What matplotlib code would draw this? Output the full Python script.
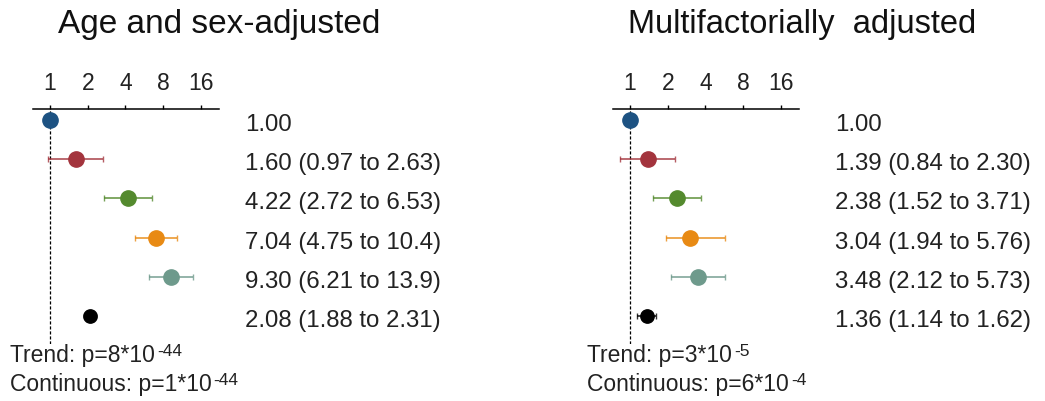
import matplotlib
matplotlib.use("Agg")
from matplotlib import pyplot as plt
from matplotlib.transforms import blended_transform_factory

plt.rcParams["font.family"] = ["Liberation Sans", "DejaVu Sans"]

# data
titles = ["Age and sex-adjusted", "Multifactorially  adjusted"]
colours = ["#1d5282", "#a3343d", "#548a2e", "#e88a14", "#6e9a8c", "#000000"]
hr_age = [1.00, 1.60, 4.22, 7.04, 9.30, 2.08]
lo_age = [1.00, 0.97, 2.72, 4.75, 6.21, 1.88]
hi_age = [1.00, 2.63, 6.53, 10.4, 13.9, 2.31]
hr_multi = [1.00, 1.39, 2.38, 3.04, 3.48, 1.36]
lo_multi = [1.00, 0.84, 1.52, 1.94, 2.12, 1.14]
hi_multi = [1.00, 2.30, 3.71, 5.76, 5.73, 1.62]
labels_age = ["1.00", "1.60 (0.97 to 2.63)", "4.22 (2.72 to 6.53)",
              "7.04 (4.75 to 10.4)", "9.30 (6.21 to 13.9)", "2.08 (1.88 to 2.31)"]
labels_multi = ["1.00", "1.39 (0.84 to 2.30)", "2.38 (1.52 to 3.71)",
                "3.04 (1.94 to 5.76)", "3.48 (2.12 to 5.73)", "1.36 (1.14 to 1.62)"]
ticks = [1, 2, 4, 8, 16]
# (text, exponent)
p_age = [("Trend: p=8*10", "-44"), ("Continuous: p=1*10", "-44")]
p_multi = [("Trend: p=3*10", "-5"), ("Continuous: p=6*10", "-4")]

W, H = 1045, 402
fig = plt.figure(figsize=(W / 100, H / 100), dpi=100)
renderer = fig.canvas.get_renderer()
TXT = "#222222"


def p_text(x, y, base, expo):
    t = fig.text(x / W, (H - y) / H, base, fontsize=16.5, va="baseline",
                 ha="left", color=TXT)
    bb = t.get_window_extent(renderer)
    fig.text((bb.x1 + 2) / W, (H - y + 6) / H, expo, fontsize=12.5,
             va="baseline", ha="left", color=TXT)


def panel(x0, title, hr, lo, hi, labels, ptxt, title_x, title_fs, label_x, ptxt_x):
    ax = fig.add_axes([x0 / W, (H - 345) / H, 186 / W, 235 / H])
    ax.set_xscale("log", base=2)
    ax.set_xlim(2 ** -0.45, 2 ** 4.48)
    ax.set_ylim(5.71, -0.28)
    for s in ["bottom", "left", "right"]:
        ax.spines[s].set_visible(False)
    ax.spines["top"].set_linewidth(1.1)
    ax.xaxis.tick_top()
    ax.set_xticks(ticks)
    ax.set_xticklabels([str(t) for t in ticks])
    ax.minorticks_off()
    ax.tick_params(axis="x", direction="out", length=3, width=1, pad=8,
                   labelsize=16.5, colors="black", labelcolor=TXT)
    ax.set_yticks([])
    ax.axvline(1, color="black", lw=0.9, ls=(0, (2.5, 1.5)), zorder=1)

    for i in range(len(hr)):
        ms = 9.6 if i == len(hr) - 1 else 11
        if hi[i] > lo[i]:
            ax.errorbar(hr[i], i, xerr=[[hr[i] - lo[i]], [hi[i] - hr[i]]],
                        fmt="none", ecolor=colours[i] if i < 5 else "black",
                        elinewidth=1.3, capsize=2.5, capthick=1, zorder=2,
                        alpha=0.8)
        ax.plot(hr[i], i, "o", color=colours[i], ms=ms, mec=colours[i],
                zorder=3, clip_on=False)

    tr = blended_transform_factory(fig.transFigure, ax.transData)
    for i, lab in enumerate(labels):
        ax.text(label_x / W, i + 0.1, lab, transform=tr, fontsize=17.3,
                va="center", ha="left", color=TXT)

    fig.text(title_x / W, (H - 33) / H, title, fontsize=title_fs, va="baseline",
             ha="left", color="#111111")
    p_text(ptxt_x, 362, *ptxt[0])
    p_text(ptxt_x, 391, *ptxt[1])
    return ax


panel(33, titles[0], hr_age, lo_age, hi_age, labels_age, p_age, 58, 24, 245, 10)
panel(613, titles[1], hr_multi, lo_multi, hi_multi, labels_multi, p_multi, 628, 23.5, 835, 587)

fig.savefig("out.png", dpi=100)
